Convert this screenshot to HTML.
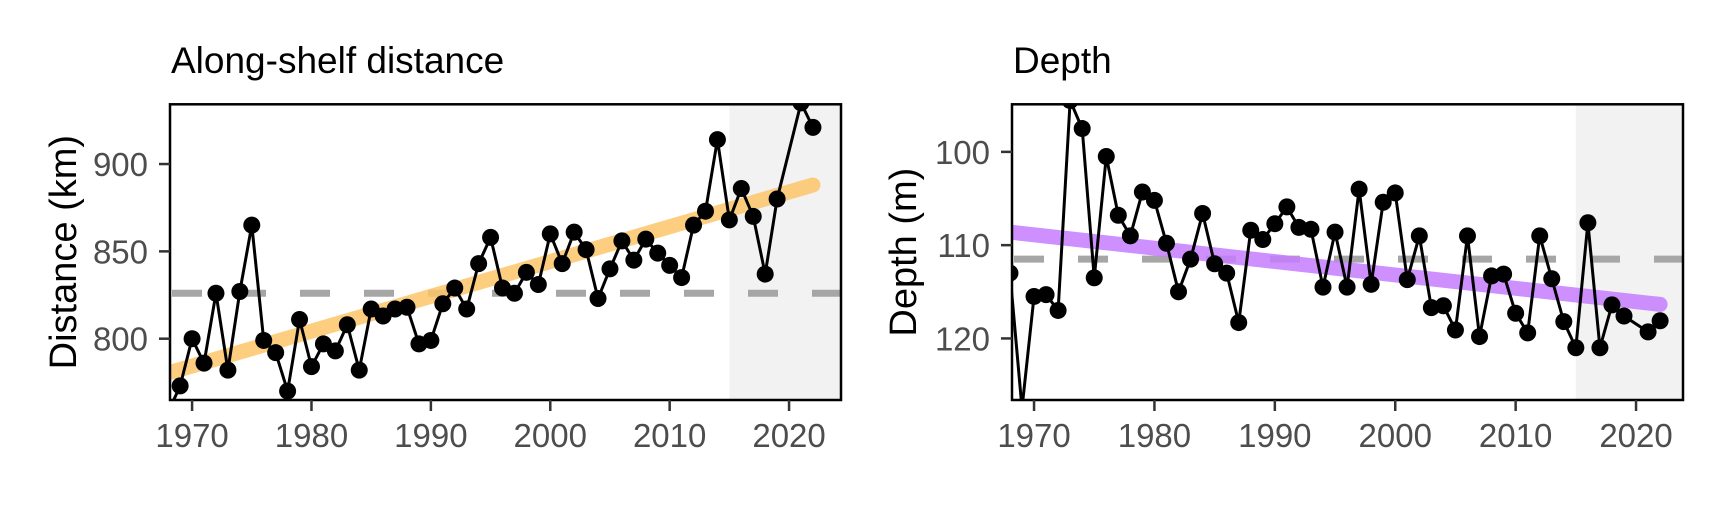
<!DOCTYPE html>
<html><head><meta charset="utf-8"><style>
body{margin:0;background:#fff}
svg{display:block;font-family:"Liberation Sans",Arial,sans-serif}
</style></head><body>
<svg id="c" width="1728" height="518" viewBox="0 0 1728 518" xmlns="http://www.w3.org/2000/svg"></svg>
<script>
const years1 = [1968,1969,1970,1971,1972,1973,1974,1975,1976,1977,1978,1979,1980,1981,1982,1983,1984,1985,1986,1987,1988,1989,1990,1991,1992,1993,1994,1995,1996,1997,1998,1999,2000,2001,2002,2003,2004,2005,2006,2007,2008,2009,2010,2011,2012,2013,2014,2015,2016,2017,2018,2019,2021,2022];
const distance = [758,773,800,786,826,782,827,865,799,792,770,811,784,797,793,808,782,817,813,817,818,797,799,820,829,817,843,858,829,826,838,831,860,843,861,851,823,840,856,845,857,849,842,835,865,873,914,868,886,870,837,880,935,921];
const distTrend = [780.4,888];
const distMean = 826;
const distTicks = [800,850,900];
const years2 = [1968,1969,1970,1971,1972,1973,1974,1975,1976,1977,1978,1979,1980,1981,1982,1983,1984,1985,1986,1987,1988,1989,1990,1991,1992,1993,1994,1995,1996,1997,1998,1999,2000,2001,2002,2003,2004,2005,2006,2007,2008,2009,2010,2011,2012,2013,2014,2015,2016,2017,2018,2019,2021,2022];
const depth = [113,127.5,115.5,115.3,117,94.5,97.5,113.5,100.5,106.8,109,104.3,105.2,109.8,115,111.5,106.6,112,113,118.3,108.4,109.4,107.7,105.9,108.1,108.3,114.5,108.6,114.5,104,114.2,105.4,104.4,113.7,109,116.7,116.5,119.1,109,119.8,113.3,113.1,117.3,119.4,109,113.6,118.2,121,107.6,121,116.4,117.6,119.3,118.1];
const depthTrend = [108.6,116.35];
const depthMean = 111.5;
const depthTicks = [100,110,120];
const xTicks = [1970,1980,1990,2000,2010,2020];

const NS="http://www.w3.org/2000/svg";
const svg=document.getElementById('c');
function mk(tag,attrs,parent,name){const e=document.createElementNS(NS,tag);for(const k in attrs)e.setAttribute(k,attrs[k]);


(parent||svg).appendChild(e);return e;}

function panel(o){
  const g=mk('g',{},svg,o.name);
  const X=v=>o.x0+(v-o.xd[0])/(o.xd[1]-o.xd[0])*(o.x1-o.x0);
  const Y=v=>o.y1-(v-o.yd[0])/(o.yd[1]-o.yd[0])*(o.y1-o.y0);
  const cid='clip'+o.name;
  const defs=mk('defs',{},g,'clip-defs');
  const cp=mk('clipPath',{id:cid},defs,'clip-path');
  mk('rect',{x:o.x0,y:o.y0,width:o.x1-o.x0,height:o.y1-o.y0},cp,'clip-rect');
  const pg=mk('g',{'clip-path':'url(#'+cid+')'},g,'plot-area');
  mk('rect',{x:X(2015),y:o.y0,width:o.x1-X(2015),height:o.y1-o.y0,fill:'#f2f2f2'},pg,'projection-period-shade');
  mk('line',{x1:o.x0,x2:o.x1,y1:Y(o.mean),y2:Y(o.mean),stroke:'#a6a6a6','stroke-width':7,'stroke-dasharray':'30 34','stroke-dashoffset':-2},pg,'mean-line');
  mk('line',{x1:X(o.ys[0]),x2:X(o.ys[o.ys.length-1]),y1:Y(o.trend[0]),y2:Y(o.trend[1]),stroke:o.tc,'stroke-width':15,'stroke-linecap':'round','stroke-opacity':0.85},pg,'trend-line');
  mk('polyline',{points:o.ys.map((y,i)=>X(y)+','+Y(o.vals[i])).join(' '),fill:'none',stroke:'#000','stroke-width':3},pg,'series-line');
  o.ys.forEach((y,i)=>mk('circle',{cx:X(y),cy:Y(o.vals[i]),r:8.5,fill:'#000'},pg,'point-'+y));
  mk('rect',{x:o.x0,y:o.y0,width:o.x1-o.x0,height:o.y1-o.y0,fill:'none',stroke:'#000','stroke-width':2.5},g,'panel-border');
  xTicks.forEach(t=>{mk('line',{x1:X(t),x2:X(t),y1:o.y1,y2:o.y1+11,stroke:'#333','stroke-width':2.5},g,'x-tick');
    const tx=mk('text',{x:X(t),y:o.y1+47,'text-anchor':'middle','font-size':33,fill:'#4d4d4d'},g,'x-tick-label');tx.textContent=t;});
  o.yt.forEach(t=>{mk('line',{x1:o.x0-11,x2:o.x0,y1:Y(t),y2:Y(t),stroke:'#333','stroke-width':2.5},g,'y-tick');
    const tx=mk('text',{x:o.x0-22,y:Y(t)+12,'text-anchor':'end','font-size':33,fill:'#4d4d4d'},g,'y-tick-label');tx.textContent=t;});
  const ti=mk('text',{x:o.x0+1,y:73,'font-size':37,fill:'#000'},g,'panel-title');ti.textContent=o.title;
  const yl=mk('text',{x:0,y:0,'font-size':38,fill:'#000','text-anchor':'middle',transform:'translate('+o.ylx+','+((o.y0+o.y1)/2)+') rotate(-90)'},g,'y-axis-title');yl.textContent=o.ylab;
}
panel({name:'distance-panel',x0:170,x1:841,y0:104.3,y1:400,xd:[1968.15,2024.35],yd:[764.9,934.2],ys:years1,vals:distance,trend:distTrend,mean:distMean,yt:distTicks,tc:'#fdc56a',title:'Along-shelf distance',ylab:'Distance (km)',ylx:76});
panel({name:'depth-panel',x0:1012,x1:1683,y0:104.3,y1:400,xd:[1968.17,2023.9],yd:[126.6,94.9],ys:years2,vals:depth,trend:depthTrend,mean:depthMean,yt:depthTicks,tc:'#c77cff',title:'Depth',ylab:'Depth (m)',ylx:916});
</script>
</body></html>
